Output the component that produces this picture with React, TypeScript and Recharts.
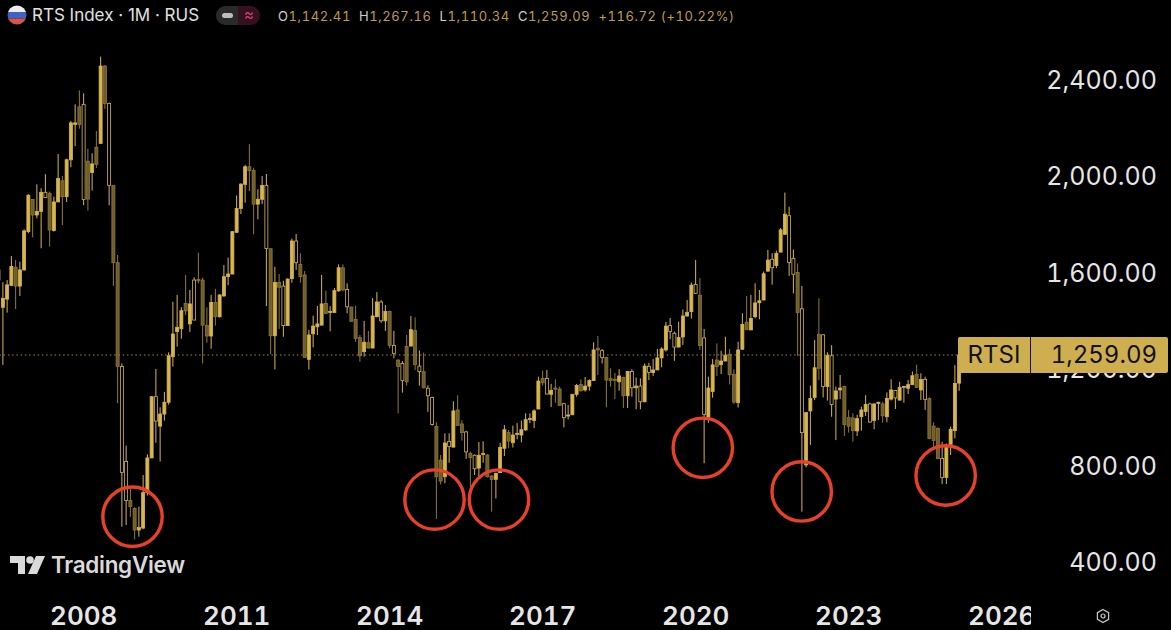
import React from "react";
import { ComposedChart, Bar, XAxis, YAxis, ReferenceLine, ReferenceDot } from "recharts";

const highs = [
  1656,1561,1570,1670,1653,1646,1780,1926,1906,1967,
  1951,2009,1937,1916,2093,2002,2074,2230,2299,2357,
  2345,2115,2096,2188,2497,2462,2306,1964,1674,1224,
  883,703,627,630,761,847,1089,1201,1042,1106,
  1270,1480,1508,1457,1591,1529,1581,1684,1580,1457,
  1509,1533,1512,1632,1663,1773,1921,1971,2047,2134,
  2036,1946,2002,2010,1703,1625,1595,1567,1577,1742,
  1761,1681,1607,1363,1422,1462,1591,1526,1462,1537,
  1635,1635,1556,1459,1464,1342,1400,1359,1495,1520,
  1487,1466,1443,1359,1241,1234,1342,1421,1415,1278,
  1269,1133,1086,980,844,934,934,1067,1092,989,
  945,858,847,898,901,848,760,771,894,969,
  948,966,976,987,1017,1017,1034,1169,1194,1197,
  1139,1158,1128,1061,1052,1097,1139,1158,1168,1158,
  1312,1338,1284,1252,1204,1184,1200,1169,1193,1200,
  1166,1162,1224,1227,1242,1284,1291,1396,1413,1356,
  1397,1448,1487,1559,1653,1578,1367,1169,1242,1307,
  1276,1335,1284,1200,1314,1432,1504,1508,1556,1529,
  1605,1695,1681,1692,1786,1933,1874,1697,1639,1545,
  1020,1132,1321,1494,1346,1270,1300,1128,1176,1132,
  1031,1017,1011,1045,1092,1061,1058,1065,1065,1104,
  1158,1114,1148,1130,1155,1190,1219,1183,1169,1083,
  980,959,899,892,962,1217,1267.16,
];
const lows = [
  1550,1218,1435,1545,1450,1504,1609,1764,1747,1826,
  1702,1912,1709,1771,1894,1798,1894,2038,2126,2198,
  1881,1858,1941,2035,2137,2280,1880,1545,1059,547,
  554,588,494,505,536,676,832,895,817,987,
  1053,1211,1294,1327,1425,1355,1404,1556,1224,1310,
  1285,1381,1414,1501,1549,1595,1767,1844,1891,1939,
  1760,1822,1885,1462,1263,1199,1367,1335,1381,1559,
  1612,1559,1248,1199,1291,1342,1383,1428,1357,1435,
  1522,1524,1432,1397,1314,1231,1252,1287,1287,1415,
  1393,1359,1287,1245,1017,1103,1132,1296,1197,1132,
  1121,1023,966,579,722,727,812,875,966,904,
  828,713,761,754,812,751,609,664,771,840,
  872,875,909,897,945,976,956,1035,1132,1096,
  1043,1061,1049,959,992,1010,1086,1107,1107,1111,
  1151,1176,1224,1042,1128,1076,1111,1039,1039,1086,
  1034,1034,1063,1155,1172,1197,1208,1273,1325,1235,
  1291,1301,1418,1410,1512,1280,810,978,1082,1172,
  1180,1234,1137,1056,1041,1280,1363,1363,1411,1407,
  1487,1605,1551,1619,1685,1757,1587,1515,1256,609,
  793,886,1072,1155,1083,1070,1003,906,1076,923,
  937,899,923,945,1006,978,951,989,978,980,
  1070,1035,1070,1061,1097,1134,1122,1072,1031,909,
  879,827,724,724,844,913,1110.34,
];
const bodyTops = [
  1612,1494,1550,1626,1623,1612,1774,1922,1904,1855,
  1934,1934,1930,1894,1991,1982,2069,2222,2222,2289,
  2299,2063,2052,2121,2458,2458,2303,1963,1642,1211,
  817,655,623,543,688,832,1086,1086,1014,1063,
  1256,1346,1374,1443,1473,1471,1570,1573,1570,1382,
  1477,1477,1508,1584,1595,1771,1867,1968,2040,2040,
  2025,1905,1962,1963,1700,1560,1560,1545,1574,1732,
  1732,1635,1591,1342,1379,1388,1471,1473,1440,1526,
  1621,1621,1531,1458,1406,1331,1312,1310,1421,1479,
  1479,1440,1440,1299,1238,1224,1294,1364,1360,1213,
  1190,1121,1083,963,823,894,900,1027,1031,973,
  940,851,843,843,850,844,757,768,876,949,
  937,927,934,949,991,996,1027,1151,1162,1162,
  1112,1122,1118,1057,1010,1096,1133,1136,1130,1153,
  1280,1287,1277,1249,1161,1158,1172,1166,1191,1191,
  1130,1130,1213,1212,1197,1247,1284,1379,1381,1349,
  1332,1421,1436,1549,1552,1507,1330,1122,1218,1238,
  1234,1258,1262,1179,1280,1386,1395,1411,1475,1484,
  1596,1653,1656,1681,1778,1843,1837,1660,1601,1451,
  1020,1079,1206,1345,1343,1258,1256,1110,1122,1128,
  999,998,995,1031,1054,1056,1056,1063,1056,1079,
  1114,1112,1125,1129,1136,1173,1179,1157,1158,1078,
  964,955,830,879,951,1141,1259.09,
];
const bodyBottoms = [
  1570,1457,1491,1548,1545,1545,1612,1771,1840,1840,
  1855,1912,1778,1776,1894,1916,1916,2069,2216,2215,
  1904,1906,2016,2050,2137,2303,1963,1642,1211,772,
  655,630,533,533,541,688,832,985,964,1014,
  1063,1252,1356,1368,1442,1388,1404,1567,1383,1338,
  1338,1418,1418,1504,1584,1595,1768,1867,1967,2024,
  1885,1885,1905,1701,1339,1339,1540,1381,1381,1576,
  1642,1584,1249,1241,1347,1376,1383,1432,1435,1435,
  1525,1529,1459,1399,1328,1256,1273,1288,1288,1418,
  1401,1401,1299,1266,1211,1153,1148,1296,1219,1190,
  1123,1090,971,754,736,754,879,877,967,937,
  857,833,787,790,846,754,743,743,771,872,
  902,895,930,927,948,992,987,1035,1144,1097,
  1096,1117,1050,999,1006,1011,1096,1111,1114,1130,
  1153,1280,1249,1155,1153,1154,1148,1090,1090,1123,
  1123,1065,1065,1187,1186,1197,1247,1280,1357,1292,
  1292,1334,1421,1439,1515,1298,1012,996,1108,1211,
  1219,1234,1177,1064,1061,1283,1364,1363,1418,1476,
  1487,1607,1621,1630,1686,1760,1643,1594,1435,937,
  803,1027,1083,1204,1128,1128,1054,1076,1114,970,
  964,945,944,1003,1025,981,987,1058,1007,1003,
  1076,1081,1072,1125,1121,1136,1125,1114,1075,913,
  904,829,751,751,888,945,1142.41,
];
// u = rising solid, d = falling dim, h = hollow outline
const kinds = [
  "duuuduuudu", "uhduuduuud", "hdududhddh", "hdduuuuhuu", "uuuuduhddd",
  "uduuuuuuud", "duuhdudhuu", "hdduuuuduu", "udhddduduu", "hudhdhdudh",
  "dhhdduhudd", "hdhuudduuu", "duuuuuuudh", "uddhuuuduu", "udhddduduh",
  "uhuhuuuuhh", "uuuuhdhuud", "uudduuduuu", "uuhuuuhhdh", "uuudhuhuud",
  "dduuuhuudu", "uhuuuuduhd", "ddhuuuu",
].join("").split("");

const firstYear = 2006;
const firstMonthIndex = 4; // May
const totalSlots = 243;
const months = Array.from({ length: totalSlots }, (_, i) => {
  const m = firstMonthIndex + i;
  const y = firstYear + Math.floor(m / 12);
  return `${y}-${String((m % 12) + 1).padStart(2, "0")}`;
});

const xTicks = ["2008-01", "2011-01", "2014-01", "2017-01", "2020-01", "2023-01", "2026-01"];
const yTicks = [400, 800, 1200, 1600, 2000, 2400];
const lastPrice = 1259.09;
const headerValues = [
  ["O", "1,142.41"],
  ["H", "1,267.16"],
  ["L", "1,110.34"],
  ["C", "1,259.09"],
];
const headerChange = "+116.72 (+10.22%)";

const circleSlots = [31.47, 102.53, 117.7, 165.66, 188.93, 222.8];
const circlePrices = [588, 659, 659, 874, 693, 759];

const BRIGHT = "#D7B650";
const DIM = "#8F7A38";
const DIM_FILL = "#6E5C2B";
const TAG = "#CFAE50";
const RED = "#E8412A";
const SANS = "Inter, 'Liberation Sans', sans-serif";
const TNUM: React.CSSProperties = { fontVariantNumeric: "tabular-nums", fontFeatureSettings: "'tnum' 1" };

const rows = months.map((month, i) => ({
  month,
  slot: i,
  range: i < highs.length ? [lows[i], highs[i]] : null,
  high: highs[i],
  low: lows[i],
  top: bodyTops[i],
  bottom: bodyBottoms[i],
  kind: kinds[i],
}));

const Candle = (props: any) => {
  const { x, y, width, height, payload } = props;
  if (payload.range == null || !height) return null;
  const perUnit = height / (payload.high - payload.low);
  const bodyY = y + (payload.high - payload.top) * perUnit;
  const bodyH = Math.max((payload.top - payload.bottom) * perUnit, 1);
  const cx = x + width / 2;
  const k = payload.kind;
  const stroke = k === "d" ? DIM : BRIGHT;
  const fill = k === "u" ? BRIGHT : k === "d" ? DIM_FILL : "#000000";
  const bw = 3;
  return (
    <g>
      <line x1={cx} x2={cx} y1={y} y2={bodyY} stroke={stroke} strokeWidth={1} />
      <line x1={cx} x2={cx} y1={bodyY + bodyH} y2={y + height} stroke={stroke} strokeWidth={1} />
      <rect x={cx - bw / 2} y={bodyY} width={bw} height={bodyH} fill={fill} stroke={stroke} strokeWidth={0.8} />
    </g>
  );
};

const PriceTick = (props: any) => (
  <text x={1157} y={props.y} textAnchor="end" dominantBaseline="central" fontFamily={SANS} fontSize={25} fill="#E6E6E6" style={TNUM}>
    {props.payload.value.toLocaleString("en-US", { minimumFractionDigits: 2 })}
  </text>
);

const YearTick = (props: any) => (
  <text x={props.x} y={615} textAnchor="middle" dominantBaseline="central" fontFamily={SANS} fontWeight={600} fontSize={26} fill="#E6E6E6" style={TNUM}>
    {String(props.payload.value).slice(0, 4)}
  </text>
);

const abs = (left: number, top: number, extra: React.CSSProperties = {}): React.CSSProperties => ({
  position: "absolute",
  left,
  top,
  ...extra,
});

export default function App() {
  return (
    <div style={{ position: "absolute", left: 0, top: 0, width: 1171, height: 630, background: "#000", overflow: "hidden", fontFamily: SANS }}>
      <ComposedChart
        width={1171}
        height={630}
        data={rows}
        barCategoryGap={0}
        margin={{ top: 40, right: 0, bottom: 0, left: -3.375 }}
        style={{ position: "absolute", left: 0, top: 0 }}
      >
        <XAxis
          dataKey="month"
          type="category"
          ticks={xTicks}
          interval={0}
          height={40}
          axisLine={false}
          tickLine={false}
          tick={<YearTick />}
        />
        <XAxis xAxisId="pos" type="number" dataKey="slot" domain={[-0.5, totalSlots - 0.5]} hide />
        <YAxis
          orientation="right"
          width={141.625}
          domain={[284, 2566]}
          allowDataOverflow
          ticks={yTicks}
          axisLine={false}
          tickLine={false}
          tick={<PriceTick />}
        />
        <ReferenceLine y={lastPrice} stroke="#A08B45" strokeDasharray="1.5 2.75" strokeWidth={1} />
        <Bar dataKey="range" isAnimationActive={false} shape={<Candle />} />
        {circleSlots.map((slot, i) => (
          <ReferenceDot
            key={slot}
            xAxisId="pos"
            x={slot}
            y={circlePrices[i]}
            r={29.7}
            fill="none"
            stroke={RED}
            strokeWidth={3.4}
          />
        ))}
      </ComposedChart>

      {/* header */}
      <svg width={20} height={20} style={abs(7, 5)}>
        <defs>
          <clipPath id="flag"><circle cx={10} cy={10} r={9.5} /></clipPath>
        </defs>
        <g clipPath="url(#flag)">
          <rect x={0} y={0} width={20} height={7} fill="#EDEDED" />
          <rect x={0} y={7} width={20} height={6.5} fill="#3F63C4" />
          <rect x={0} y={13.5} width={20} height={7} fill="#D9534A" />
        </g>
      </svg>
      <div style={abs(32, 5, { color: "#E2E2E2", fontSize: 17, lineHeight: "21px", whiteSpace: "nowrap" })}>
        RTS Index · 1M · RUS
      </div>
      <div style={abs(216, 6, { width: 44, height: 19, borderRadius: 10, overflow: "hidden", display: "flex" })}>
        <div style={{ width: 22, background: "#2A2A2A", position: "relative" }}>
          <div style={{ position: "absolute", left: 6, top: 7, width: 11, height: 5, borderRadius: 3, background: "#BDBDBD" }} />
        </div>
        <div style={{ width: 22, background: "#35101F", color: "#D0406F", fontSize: 15, lineHeight: "18px", textAlign: "center" }}>≈</div>
      </div>
      <div style={abs(278, 7, { ...TNUM, fontSize: 13, lineHeight: "18px", letterSpacing: 0.6, whiteSpace: "nowrap", color: "#BE9C42", display: "flex" })}>
        {headerValues.map(([label, value]) => (
          <span key={label} style={{ marginRight: 8 }}>
            <span style={{ color: "#CFCFCF" }}>{label}</span>
            {value}
          </span>
        ))}
        <span>{headerChange}</span>
      </div>

      {/* watermark */}
      <svg width={36} height={20} viewBox="0 0 36 20" style={abs(10, 555)}>
        <path d="M0 1h15v18h-7v-11h-8z" fill="#DADADA" />
        <circle cx={20} cy={5} r={3.8} fill="#DADADA" />
        <path d="M26 1h9l-8 18h-9z" fill="#DADADA" />
      </svg>
      <div style={abs(51, 550, { color: "#DADADA", fontWeight: 600, fontSize: 22.5, lineHeight: "30px", letterSpacing: -0.3, whiteSpace: "nowrap" })}>
        TradingView
      </div>

      {/* last price tag */}
      <div style={abs(958, 337, { ...TNUM, width: 210, height: 36, background: TAG, borderRadius: 2, display: "flex", color: "#111", fontSize: 24, lineHeight: "36px" })}>
        <div style={{ width: 72, textAlign: "center", borderRight: "1px solid #111" }}>RTSI</div>
        <div style={{ flex: 1, textAlign: "right", paddingRight: 11 }}>1,259.09</div>
      </div>

      {/* axis corner */}
      <div style={abs(1031, 597, { width: 140, height: 33, background: "#000" })}>
        <svg width={16} height={16} viewBox="0 0 16 16" style={abs(64, 11)}>
          <path d="M8 1.5l5.6 3.2v6.6L8 14.5l-5.6-3.2V4.7z" fill="none" stroke="#C8C8C8" strokeWidth={1.2} />
          <circle cx={8} cy={8} r={2} fill="none" stroke="#C8C8C8" strokeWidth={1.2} />
        </svg>
      </div>
    </div>
  );
}
